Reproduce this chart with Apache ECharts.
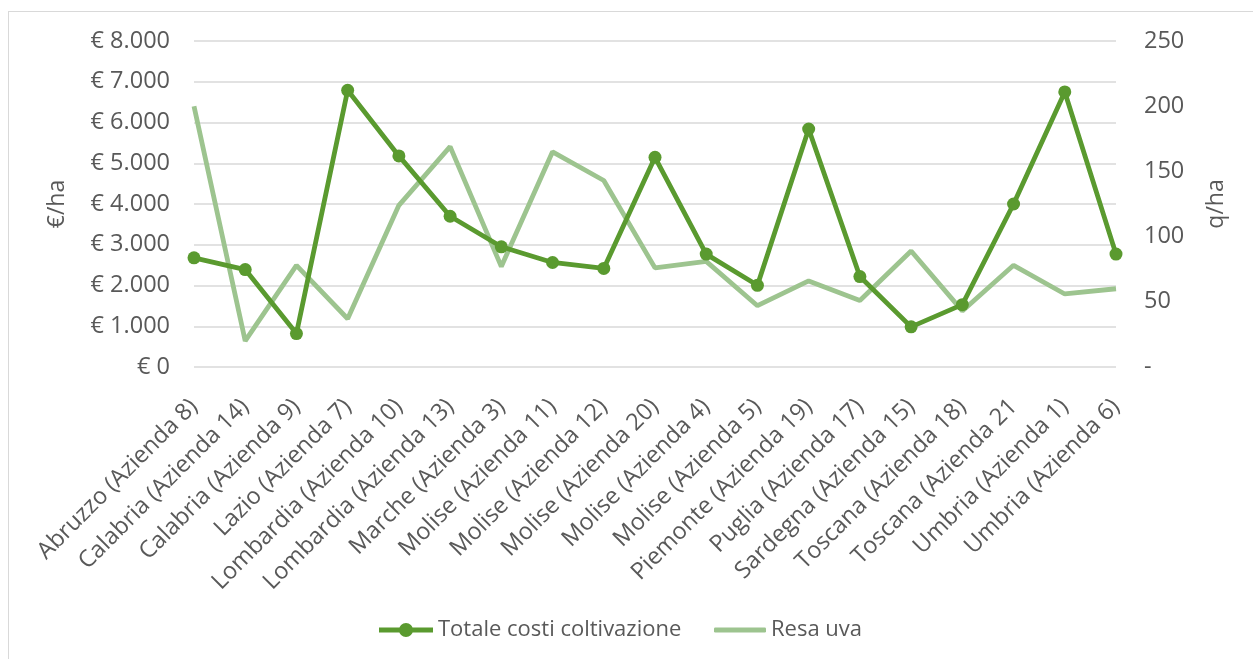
<!DOCTYPE html>
<html><head><meta charset="utf-8">
<script src="https://cdn.jsdelivr.net/npm/echarts@6/dist/echarts.min.js"></script>
<style>
html,body{margin:0;padding:0;background:#fff;}
#frame{position:absolute;left:8px;top:11px;width:1260px;height:700px;border:1.5px solid #d9d9d9;}
#c{position:absolute;left:0;top:0;width:1253px;height:659px;}
</style></head><body>
<div id="frame"></div>
<div id="c"></div>
<script>
const categories = ["Abruzzo (Azienda 8)","Calabria (Azienda 14)","Calabria (Azienda 9)","Lazio (Azienda 7)","Lombardia (Azienda 10)","Lombardia (Azienda 13)","Marche (Azienda 3)","Molise (Azienda 11)","Molise (Azienda 12)","Molise (Azienda 20)","Molise (Azienda 4)","Molise (Azienda 5)","Piemonte (Azienda 19)","Puglia (Azienda 17)","Sardegna (Azienda 15)","Toscana (Azienda 18)","Toscana (Azienda 21","Umbria (Azienda 1)","Umbria (Azienda 6)"];
const costi = [2680,2390,820,6790,5180,3700,2950,2565,2420,5145,2770,2005,5840,2220,985,1530,4000,6750,2770];
const resa = [200,20,78,37,124,169,77,165,143,76,81,47,66,51,89,43,78,56,60];
const leftTicks = {min:0,max:8000,interval:1000};
const rightTicks = {min:0,max:250,interval:50};
const names = ["Totale costi coltivazione","Resa uva"];
const axisNames = ["€/ha","q/ha"];

const font = "'Open Sans', sans-serif";
const txt = "#595959";
const dark = '#5A9A2F', light = '#9DC48F';
const chart = echarts.init(document.getElementById('c'), null, {renderer:'canvas'});
chart.setOption({
  animation:false,
  textStyle:{fontFamily:font},
  grid:{left:194,right:137,top:41,bottom:292,containLabel:false},
  legend:[{
    top:614,left:374,itemWidth:54,itemHeight:14,
    textStyle:{color:txt,fontSize:22,fontFamily:font},
    data:[{name:names[0],icon:'path://M0,4.6 L54,4.6 L54,9.4 L0,9.4 Z M20,7 A7,7 0 1,1 34,7 A7,7 0 1,1 20,7 Z',itemStyle:{color:dark}}]
  },{
    top:614,left:709,itemWidth:52,itemHeight:5,
    textStyle:{color:txt,fontSize:22,fontFamily:font},
    data:[{name:names[1],icon:'roundRect',itemStyle:{color:light}}]
  }],
  xAxis:{
    type:'category',data:categories,boundaryGap:false,
    axisLine:{show:false},axisTick:{show:false},
    axisLabel:{rotate:45,color:txt,fontSize:23.5,fontFamily:font,margin:36,interval:0}
  },
  yAxis:[{
    type:'value',min:leftTicks.min,max:leftTicks.max,interval:leftTicks.interval,
    name:axisNames[0],nameLocation:'middle',nameGap:125,nameRotate:90,
    nameTextStyle:{color:txt,fontSize:23,fontFamily:font},
    axisLabel:{color:txt,fontSize:23.5,fontFamily:font,margin:24,
      formatter:v=>'€ '+(v===0?'0':v.toLocaleString('de-DE'))},
    splitLine:{lineStyle:{color:'#d9d9d9',width:1.5}},
    axisLine:{show:false},axisTick:{show:false}
  },{
    type:'value',min:rightTicks.min,max:rightTicks.max,interval:rightTicks.interval,
    name:axisNames[1],nameLocation:'middle',nameGap:89,nameRotate:90,
    nameTextStyle:{color:txt,fontSize:23,fontFamily:font},
    axisLabel:{color:txt,fontSize:23.5,fontFamily:font,margin:28,
      formatter:v=>v===0?'-':String(v)},
    splitLine:{show:false},axisLine:{show:false},axisTick:{show:false}
  }],
  series:[{
    name:names[0],type:'line',yAxisIndex:0,data:costi,
    symbol:'circle',symbolSize:13,showAllSymbol:true,
    lineStyle:{color:dark,width:4.8},
    itemStyle:{color:dark},z:3
  },{
    name:names[1],type:'line',yAxisIndex:1,data:resa,
    symbol:'none',
    lineStyle:{color:light,width:4.8},
    itemStyle:{color:light},z:2
  }]
});
</script>
</body></html>
